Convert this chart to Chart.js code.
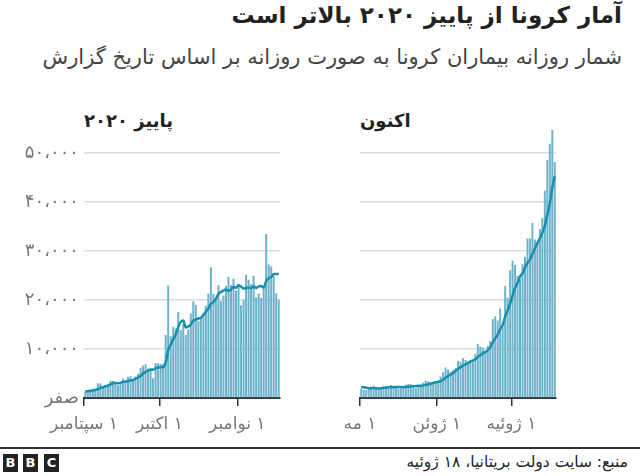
<!DOCTYPE html>
<html>
<head>
<meta charset="utf-8">
<script src="https://cdn.jsdelivr.net/npm/chart.js@4/dist/chart.umd.min.js"></script>
<style>
body { margin: 0; width: 640px; height: 476px; overflow: hidden; background: #fff; font-family: "DejaVu Sans", sans-serif; position: relative; }
.txt { position: absolute; white-space: nowrap; }
#title { right: 18px; top: 2px; font-size: 23px; font-weight: bold; color: #222; }
#subtitle { right: 18px; top: 45px; font-size: 21px; color: #444; }
.panel { top: 110px; font-size: 18px; font-weight: bold; color: #222; }
#rule { position: absolute; left: 0; top: 447px; width: 640px; height: 2px; background: #333; }
.bbc { position: absolute; top: 454px; width: 15px; height: 18px; background: #222; color: #fff; font: bold 13px "DejaVu Sans", sans-serif; text-align: center; line-height: 18px; }
#source { right: 12px; top: 453px; font-size: 15.5px; color: #222; }
canvas { position: absolute; }
</style>
</head>
<body>
<div id="title" class="txt" dir="rtl">آمار کرونا از پاییز ۲۰۲۰ بالاتر است</div>
<div id="subtitle" class="txt" dir="rtl">شمار روزانه بیماران کرونا به صورت روزانه بر اساس تاریخ گزارش</div>
<div class="txt panel" dir="rtl" style="left:84px">پاییز ۲۰۲۰</div>
<div class="txt panel" dir="rtl" style="left:360px">اکنون</div>
<canvas id="autumn" dir="rtl" width="290" height="345" style="left:0;top:100px"></canvas>
<canvas id="spring" dir="rtl" width="270" height="345" style="left:300px;top:100px"></canvas>
<div id="rule"></div>
<div class="bbc" style="left:3px">B</div>
<div class="bbc" style="left:23px">B</div>
<div class="bbc" style="left:44px">C</div>
<div id="source" class="txt" dir="rtl">منبع: سایت دولت بریتانیا، ۱۸ ژوئیه</div>
<script>
// daily reported cases, 1 Sep - 17 Nov 2020
var autumnCases = [
    1295, 1508, 1735, 1940, 1813, 2988, 2948, 2420, 2659, 2919,
    3539, 3497, 3330, 2621, 3105, 3991, 3395, 4322, 4422, 3899,
    4368, 4926, 6178, 6634, 6874, 6042, 5693, 4044, 7143, 7108,
    6914, 6968, 12872, 22961, 12594, 14542, 14162, 17540, 13864, 15166,
    12872, 13972, 17234, 19724, 18980, 15650, 16171, 16982, 18804, 21331,
    26688, 21242, 20530, 23012, 19790, 20890, 22885, 24701, 23065, 24405,
    21915,
    23254, 18950, 20018, 25177, 24141, 23287, 24957, 20572, 21350, 20412,
    22950, 33470, 27301, 26860, 24962, 21363, 20051
];
// 7 day average line
var autumnAvg = [
    1340, 1400, 1440, 1530, 1630, 1810, 2030, 2190, 2360, 2530,
    2760, 3000, 3050, 3000, 3100, 3290, 3350, 3470, 3600, 3680,
    3930, 4190, 4500, 4960, 5330, 5560, 5820, 5770, 6090, 6220,
    6260, 6270, 7250, 9720, 10940, 11990, 13000, 14520, 15510, 15830,
    14390, 14590, 14970, 15770, 15970, 16230, 16370, 16960, 17650, 18240,
    19230, 19550, 20250, 21230, 21630, 21930, 22150, 21860, 22130, 22680,
    22520,
    23020, 22740, 22330, 22400, 22550, 22390, 22830, 22440, 22790, 22840,
    22520, 23860, 24430, 24700, 25330, 25330, 25280
];
// daily reported cases, 1 May - 18 Jul 2021
var springCases = [
    1907, 1671, 1649, 1946, 2166, 2490, 2047, 1770, 1770, 2357,
    2474, 2284, 2657, 2193, 2027, 1926, 1979, 2412, 2696, 2874,
    2829, 2235, 1979, 2439, 2493, 3180, 3542, 3398, 3240, 3165,
    3383,
    3165, 4330, 5274, 6238, 5765, 5341, 5683, 6048, 7540, 7393,
    8125, 7738, 7490, 7742, 7673, 9055, 11007, 10476, 10321, 9284,
    10633, 11625, 16135, 16703, 15810, 18270, 14876, 22868, 20479, 26068,
    27989, 27125, 24885, 24248, 27334, 28773, 32548, 32551, 35707, 32367,
    31772, 34471, 36660, 42302, 48553, 51870, 54674, 48161
];
var springAvg = [
    2180, 2170, 2110, 2010, 2010, 2030, 1980, 1960, 1980, 2080,
    2150, 2170, 2190, 2220, 2250, 2270, 2220, 2210, 2270, 2300,
    2390, 2420, 2430, 2500, 2510, 2580, 2670, 2750, 2900, 3070,
    3200,
    3300, 3460, 3710, 4110, 4470, 4790, 5110, 5530, 5980, 6290,
    6560, 6840, 7150, 7440, 7670, 7890, 8400, 8740, 9110, 9370,
    9780, 10340, 11350, 12170, 12930, 14070, 14870, 16610, 17880, 19300,
    20910, 22530, 23470, 24810, 25450, 26630, 27560, 28210, 29440, 30500,
    31580, 32600, 33730, 35120, 37410, 39710, 42900, 45240
];

var yTickValues = [0, 10000, 20000, 30000, 40000, 50000];
var yTickLabels = ['صفر', '۱۰،۰۰۰', '۲۰،۰۰۰', '۳۰،۰۰۰', '۴۰،۰۰۰', '۵۰،۰۰۰'];
// month starts, as day offsets from the first day of each panel
var autumnMonthDays = [0, 30, 61];
var autumnMonthLabels = ['۱ سپتامبر', '۱ اکتبر', '۱ نوامبر'];
var springMonthDays = [0, 31, 61];
var springMonthLabels = ['۱ مه', '۱ ژوئن', '۱ ژوئیه'];

var barColor = '#6fb2cb';
var lineColor = '#1690ad';

var toPoints = function (values) {
    return values.map(function (v, i) { return { x: i, y: v }; });
};

var makeChart = function (id, cases, avg, monthDays, monthLabels, showY, padLeft, padRight) {
    var ctx = document.getElementById(id).getContext('2d');
    return new Chart(ctx, {
        type: 'bar',
        data: {
            datasets: [{
                type: 'line',
                data: toPoints(avg),
                borderColor: lineColor,
                borderWidth: 2.5,
                pointRadius: 0,
                cubicInterpolationMode: 'monotone',
                order: 0
            }, {
                data: toPoints(cases),
                backgroundColor: barColor,
                borderWidth: 0,
                barPercentage: 1,
                categoryPercentage: 0.8,
                order: 1
            }]
        },
        options: {
            responsive: false,
            devicePixelRatio: 1,
            animation: false,
            layout: { padding: { top: 28.5, right: padRight, left: padLeft, bottom: 0 } },
            plugins: { legend: { display: false }, tooltip: { enabled: false } },
            scales: {
                x: {
                    type: 'linear',
                    offset: false,
                    min: -0.5,
                    max: cases.length - 0.5,
                    z: 1,
                    afterBuildTicks: function (scale) {
                        scale.ticks = monthDays.map(function (d) { return { value: d - 0.5 }; });
                    },
                    afterFit: function (scale) { scale.height = 47; },
                    grid: { offset: false, drawOnChartArea: false, drawTicks: true, tickLength: 8, color: '#333', lineWidth: 1.5 },
                    border: { display: true, color: '#333', width: 2 },
                    ticks: {
                        autoSkip: false,
                        maxRotation: 0,
                        padding: 8,
                        color: '#777',
                        font: { family: 'DejaVu Sans', size: 17 },
                        callback: function (v, i) { return monthLabels[i]; }
                    }
                },
                y: {
                    min: 0,
                    max: 55000,
                    afterBuildTicks: function (scale) {
                        scale.ticks = yTickValues.map(function (v) { return { value: v }; });
                    },
                    afterFit: function (scale) { scale.width = showY ? 84 : 0; },
                    border: { display: false },
                    grid: { drawTicks: false, color: '#dcdcdc', lineWidth: 1.5 },
                    ticks: {
                        display: showY,
                        padding: 5,
                        color: '#777',
                        font: { family: 'DejaVu Sans', size: 18 },
                        callback: function (v, i) { return yTickLabels[i]; }
                    }
                }
            }
        }
    });
};

makeChart('autumn', autumnCases, autumnAvg, autumnMonthDays, autumnMonthLabels, true, 0, 10);
makeChart('spring', springCases, springAvg, springMonthDays, springMonthLabels, false, 60, 14);
</script>
</body>
</html>
